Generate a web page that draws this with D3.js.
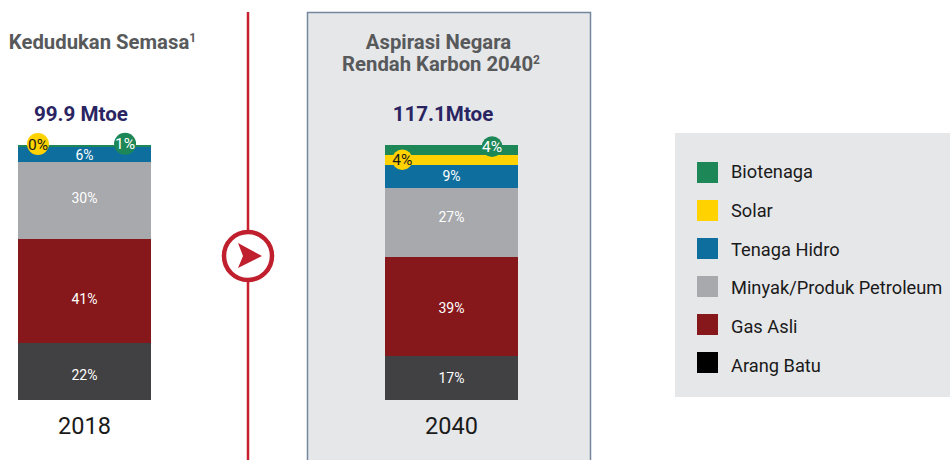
<!DOCTYPE html>
<html>
<head>
<meta charset="utf-8">
<script src="https://cdn.jsdelivr.net/npm/d3@7"></script>
<style>
  html, body { margin: 0; padding: 0; background: #fff; }
  svg { display: block; }
  text { font-family: Roboto, sans-serif; }
</style>
</head>
<body>
<svg id="chart" width="950" height="460"></svg>
<script>
// data
var years = ["2018", "2040"];
var totals = ["99.9 Mtoe", "117.1Mtoe"];
var titles2018 = ["Kedudukan Semasa"];
var titles2040 = ["Aspirasi Negara", "Rendah Karbon 2040"];
var seriesNames = ["Arang Batu", "Gas Asli", "Minyak/Produk Petroleum", "Tenaga Hidro", "Solar", "Biotenaga"];
var arangBatu = [22, 17];
var gasAsli = [41, 39];
var minyak = [30, 27];
var hidro = [6, 9];
var solar = [0, 4];
var biotenaga = [1, 4];
var legendOrder = ["Biotenaga", "Solar", "Tenaga Hidro", "Minyak/Produk Petroleum", "Gas Asli", "Arang Batu"];

var seriesValues = [arangBatu, gasAsli, minyak, hidro, solar, biotenaga];
var rows = years.map(function(year, i) {
  var row = {year: year};
  seriesNames.forEach(function(name, s) { row[name] = seriesValues[s][i]; });
  return row;
});

var barColor = d3.scaleOrdinal()
  .domain(seriesNames)
  .range(["#414042", "#86181b", "#a7a9ac", "#0e6f9e", "#ffd200", "#1e8757"]);
var legendColor = d3.scaleOrdinal()
  .domain(seriesNames)
  .range(["#000000", "#86181b", "#a7a9ac", "#0e6f9e", "#ffd200", "#1e8757"]);

var svg = d3.select("#chart");

// same scale for both bars
var y = d3.scaleLinear().domain([0, 100]).range([399.6, 144.5]);
var x = d3.scaleBand().domain(years).range([18, 518]).paddingInner(234 / 367);

// grey panel behind 2040
svg.append("rect")
  .attr("x", 307.5).attr("y", 12.5)
  .attr("width", 283).attr("height", 460)
  .attr("fill", "#e6e7e9")
  .attr("stroke", "#74879e")
  .attr("stroke-width", 1.5);

// divider and arrow
svg.append("line")
  .attr("x1", 248).attr("x2", 248).attr("y1", 12).attr("y2", 460)
  .attr("stroke", "#c8202f").attr("stroke-width", 2.5);
svg.append("circle")
  .attr("cx", 248).attr("cy", 256).attr("r", 24)
  .attr("fill", "#fff").attr("stroke", "#c01f2e").attr("stroke-width", 4.5);
svg.append("path")
  .attr("d", "M238,243L262,256L238,268L243,256Z")
  .attr("fill", "#c01f2e");

// stacked bars
var stacked = d3.stack().keys(seriesNames)(rows);

var layers = svg.selectAll("g.layer")
  .data(stacked)
  .enter().append("g")
  .attr("class", "layer")
  .attr("fill", function(d) { return barColor(d.key); });

layers.selectAll("rect")
  .data(function(d) { return d; })
  .enter().append("rect")
  .attr("shape-rendering", "crispEdges")
  .attr("x", function(d) { return x(d.data.year); })
  .attr("width", x.bandwidth())
  .attr("y", function(d) { return y(d[1]); })
  .attr("height", function(d) { return y(d[0]) - y(d[1]); });

// labels inside the big segments, they are not quite centred in the original
var labelNudge = {
  "Arang Batu": [3, 0],
  "Gas Asli": [8, 1],
  "Minyak/Produk Petroleum": [-3, -5],
  "Tenaga Hidro": [0, 0]
};
stacked.filter(function(s) { return labelNudge[s.key]; }).forEach(function(s) {
  svg.selectAll("text.seg-" + s.index)
    .data(s)
    .enter().append("text")
    .attr("class", "seg-" + s.index)
    .attr("x", function(d) { return x(d.data.year) + x.bandwidth() / 2; })
    .attr("y", function(d, i) { return y((d[0] + d[1]) / 2) + labelNudge[s.key][i]; })
    .attr("dy", "0.36em")
    .attr("text-anchor", "middle")
    .attr("font-size", 14)
    .attr("fill", "#fff")
    .text(function(d) { return (d[1] - d[0]) + "%"; });
});

// round badges for solar and bio, offsets are relative to the bar
var badgeStyle = {
  "Solar": {fx: [0.15, 0.13], dy: [-3, 0], r: [11, 10.3], text: "#1a1a1a"},
  "Biotenaga": {fx: [0.805, 0.805], dy: [-2, -3], r: [11, 10.3], text: "#fff"}
};
stacked.filter(function(s) { return badgeStyle[s.key]; }).forEach(function(s) {
  var st = badgeStyle[s.key];
  var g = svg.selectAll("g.badge-" + s.index)
    .data(s)
    .enter().append("g")
    .attr("class", "badge-" + s.index)
    .attr("transform", function(d, i) {
      var bx = x(d.data.year) + x.bandwidth() * st.fx[i];
      var by = y((d[0] + d[1]) / 2) + st.dy[i];
      return "translate(" + bx + "," + by + ")";
    });
  g.append("circle")
    .attr("r", function(d, i) { return st.r[i]; })
    .attr("fill", barColor(s.key));
  g.append("text")
    .attr("dy", "0.36em")
    .attr("text-anchor", "middle")
    .attr("font-size", 15.5)
    .attr("fill", st.text)
    .text(function(d) { return (d[1] - d[0]) + "%"; });
});

// year under each bar
svg.selectAll("text.year")
  .data(years)
  .enter().append("text")
  .attr("class", "year")
  .attr("x", function(d) { return x(d) + x.bandwidth() / 2; })
  .attr("y", 434)
  .attr("text-anchor", "middle")
  .attr("font-size", 23.5)
  .attr("fill", "#1a1a1a")
  .text(function(d) { return d; });

// totals above each bar
svg.selectAll("text.total")
  .data(totals)
  .enter().append("text")
  .attr("class", "total")
  .attr("x", function(d, i) { return x(years[i]) + x.bandwidth() / 2 - (i ? 8.5 : 3.5); })
  .attr("y", 121)
  .attr("text-anchor", "middle")
  .attr("font-size", 20.6)
  .attr("font-weight", 700)
  .attr("fill", "#2a2562")
  .text(function(d) { return d; });

// headings, last line carries a footnote mark
function heading(lines, centers, firstY, mark) {
  var t = svg.append("text")
    .attr("text-anchor", "middle")
    .attr("font-size", 20.3)
    .attr("font-weight", 700)
    .attr("fill", "#58595b");
  lines.forEach(function(line, i) {
    t.append("tspan").attr("x", centers[i]).attr("y", firstY + i * 22).text(line);
  });
  t.append("tspan").attr("font-size", 12).attr("dy", -7).text(mark);
}
heading(titles2018, [102.5], 49, "1");
heading(titles2040, [438.5, 441], 49, "2");

// legend
svg.append("rect")
  .attr("x", 675).attr("y", 133)
  .attr("width", 275).attr("height", 264)
  .attr("fill", "#e6e7e9");

// swatches and texts drift apart a bit in the original, so two scales
var legendY = d3.scalePoint().domain(legendOrder).range([162, 352]);
var legendTextY = d3.scalePoint().domain(legendOrder).range([178, 372]);

svg.selectAll("rect.swatch")
  .data(legendOrder)
  .enter().append("rect")
  .attr("class", "swatch")
  .attr("x", 697)
  .attr("y", function(d) { return legendY(d); })
  .attr("width", 21).attr("height", 21)
  .attr("fill", function(d) { return legendColor(d); });
svg.selectAll("text.legend")
  .data(legendOrder)
  .enter().append("text")
  .attr("class", "legend")
  .attr("x", 731)
  .attr("y", function(d) { return legendTextY(d); })
  .attr("font-size", 18.25)
  .attr("fill", "#1a1a1a")
  .text(function(d) { return d; });
</script>
</body>
</html>
